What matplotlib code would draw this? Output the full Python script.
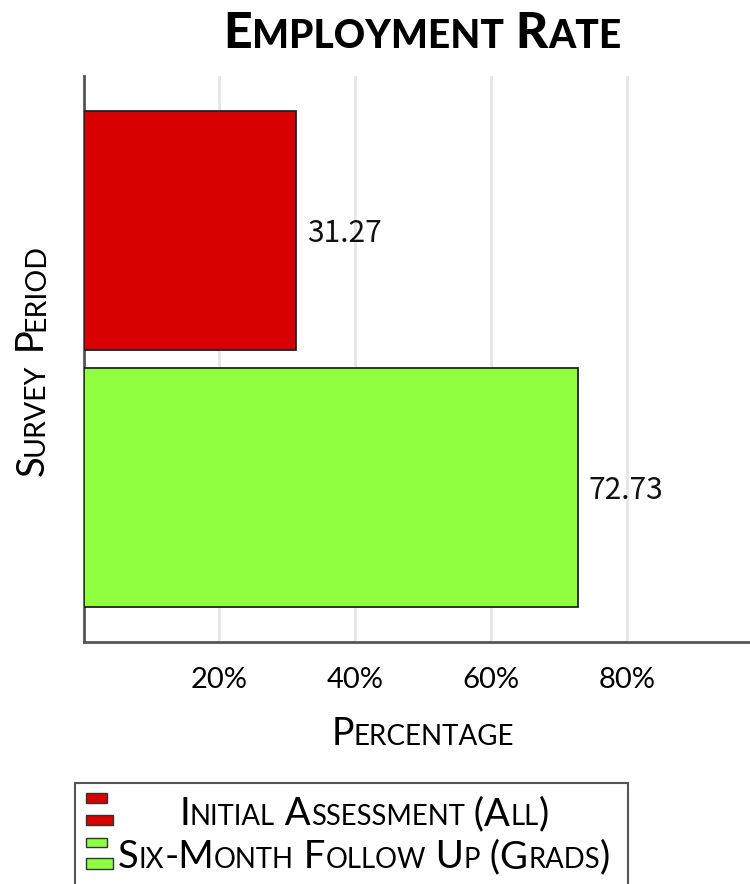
import matplotlib
matplotlib.use("Agg")
import matplotlib.pyplot as plt
from matplotlib.font_manager import FontProperties
from matplotlib.patches import Rectangle

# ---- data ----
periods = ["Initial Assessment (All)", "Six-Month Follow Up (Grads)"]
rates = [31.27, 72.73]
colors = ["#d80000", "#8fff3f"]
xticks = [20, 40, 60, 80]
xtick_labels = ["20%", "40%", "60%", "80%"]
title = "Employment Rate"
xlabel = "Percentage"
ylabel = "Survey Period"

W, H, DPI = 750, 884, 100
LABEL_FONT = "Lato"
VALUE_FONT = "Noto Sans CJK JP"

fig = plt.figure(figsize=(W / DPI, H / DPI), dpi=DPI)
fig.patch.set_facecolor("white")

# axes box in pixel terms: left 83.5, top 76, bottom 641.5, runs to right edge
left, top, bottom = 83.5, 76.0, 641.5
ax = fig.add_axes([left / W, 1 - bottom / H, 1 - left / W, (bottom - top) / H])

ypos = list(range(len(periods)))
ax.barh(ypos, rates, height=0.93, color=colors, edgecolor="#222222",
        linewidth=1.3, zorder=3)
ax.set_ylim(len(periods) - 0.4, -0.6)
ax.set_xlim(0, 98.1)

ax.set_yticks([])
ax.set_xticks(xticks, xtick_labels)
ax.tick_params(axis="x", length=0, pad=18, labelsize=21)
for t in ax.get_xticklabels():
    t.set_family(LABEL_FONT)

ax.grid(axis="x", color="#e6e6e6", linewidth=2, zorder=0)
ax.set_axisbelow(True)
for side in ("top", "right"):
    ax.spines[side].set_visible(False)
for side in ("left", "bottom"):
    ax.spines[side].set_color("#555555")
    ax.spines[side].set_linewidth(2)

# value labels at the end of each bar
for yi, v in zip(ypos, rates):
    ax.annotate(f"{v:.2f}", xy=(v, yi), xytext=(8, -8.3),
                textcoords="offset points", ha="left", va="baseline",
                fontsize=21.5, family=VALUE_FONT, color="#111111")

renderer = fig.canvas.get_renderer()


def run_width(s, size, **font):
    fp = FontProperties(size=size, **font)
    w1 = renderer.get_text_width_height_descent("|" + s + "|", fp, ismath=False)[0]
    w0 = renderer.get_text_width_height_descent("||", fp, ismath=False)[0]
    return w1 - w0


def smallcaps(text, x_px, y_px, big, small, rotation=0, color="black", **font):
    """Draw text in small caps centred on (x_px, y_px) baseline, pixel coords from top-left."""
    runs = []
    for ch in text:
        size = small if ch.islower() else big
        if runs and runs[-1][1] == size:
            runs[-1][0] += ch.upper()
        else:
            runs.append([ch.upper(), size])
    widths = [run_width(s, sz, **font) for s, sz in runs]
    pos = -sum(widths) / 2
    for (s, sz), w in zip(runs, widths):
        if rotation == 0:
            fx, fy = (x_px + pos) / W, 1 - y_px / H
        else:
            fx, fy = x_px / W, 1 - (y_px - pos) / H
        fig.text(fx, fy, s, fontsize=sz, rotation=rotation,
                 rotation_mode="anchor", ha="left", va="baseline",
                 color=color, **font)
        pos += w


smallcaps(title, 422.5, 48, 36, 28, family=LABEL_FONT, weight="black")
smallcaps(xlabel, 423, 745, 27, 20, family=LABEL_FONT)
smallcaps(ylabel, 44, 360, 27.5, 20.5, rotation=90, family=LABEL_FONT)

# legend box with stacked swatches
fig.add_artist(Rectangle((75 / W, -0.02), (628 - 75) / W, 1 - 783 / H + 0.02,
                         transform=fig.transFigure, facecolor="white",
                         edgecolor="#555555", linewidth=1.5))
swatch_rows = [(793, 803, 815, 825), (838, 847, 858, 869)]
text_baselines = [825, 868]
for label, c, (a0, a1, b0, b1), base in zip(periods, colors, swatch_rows, text_baselines):
    fig.add_artist(Rectangle((86 / W, 1 - a1 / H), 21 / W, (a1 - a0) / H,
                             transform=fig.transFigure, facecolor=c,
                             edgecolor="#333333", linewidth=1))
    fig.add_artist(Rectangle((86 / W, 1 - b1 / H), 27 / W, (b1 - b0) / H,
                             transform=fig.transFigure, facecolor=c,
                             edgecolor="#333333", linewidth=1))
    smallcaps(label, 364, base, 27.5, 19.8, family=LABEL_FONT)

fig.savefig("out.png", dpi=DPI)
